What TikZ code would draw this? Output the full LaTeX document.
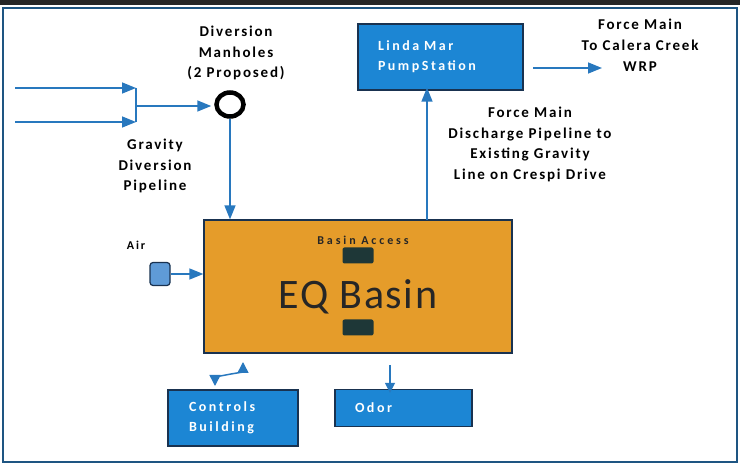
\documentclass[tikz,border=0pt]{standalone}
\usepackage{fontspec}
\setmainfont{Carlito}
\usetikzlibrary{arrows.meta,positioning,shapes.geometric}

\definecolor{pipeblue}{RGB}{40,120,190}
\definecolor{boxblue}{RGB}{28,134,212}
\definecolor{boxedge}{RGB}{25,50,80}
\definecolor{basinorange}{RGB}{229,156,42}
\definecolor{hatchdark}{RGB}{30,55,55}
\definecolor{airblue}{RGB}{95,155,215}
\definecolor{frameblue}{RGB}{30,85,130}

\newcommand{\lblfont}{\fontsize{15}{20.8}\selectfont\bfseries\addfontfeature{LetterSpace=12}}
\newcommand{\boxfont}{\fontsize{14}{20}\selectfont\bfseries\addfontfeature{LetterSpace=18}}

\begin{document}
\begin{tikzpicture}[x=1pt,y=-1pt,
    pipe/.style={draw=pipeblue, line width=1.5pt},
    flow/.style={pipe, -{Triangle[length=14pt,width=11pt]}},
    bluebox/.style={draw=boxedge, line width=1.3pt, fill=boxblue, text=white,
        font=\boxfont, align=left, inner sep=0pt},
    lbl/.style={font=\lblfont, align=center, inner sep=0pt}]
\useasboundingbox (0,0) rectangle (740,465);
\fill[black!85] (0,0) rectangle (740,5);
\draw[frameblue, line width=2.5pt] (3,8) rectangle (737,462);

% boxes
\node[bluebox, minimum width=165pt, minimum height=66pt, text width=125pt] (pump) at (440.5,57) {Linda Mar\\PumpStation};
\node[draw=boxedge, line width=1.3pt, fill=basinorange, minimum width=308pt, minimum height=133pt] (basin) at (358,286.5) {};
\node[bluebox, minimum width=130pt, minimum height=56pt, text width=88pt] (ctrl) at (233,418) {Controls\\Building};
\node[bluebox, minimum width=137pt, minimum height=37pt, text width=97pt] (odor) at (403.5,408) {Odor};

% basin inside
\node[font=\fontsize{42}{42}\selectfont\addfontfeature{LetterSpace=4}, text=black!85] (eq) at (358,297) {EQ Basin};
\node[font=\fontsize{12}{12}\selectfont\bfseries\addfontfeature{LetterSpace=24}, text=black!85, inner sep=0pt] (acc) at (363,240) {Basin Access};
\node[fill=hatchdark, rounded corners=2pt, minimum width=31pt, minimum height=16pt, inner sep=0pt] (hatch1) at (358,255.5) {};
\node[fill=hatchdark, rounded corners=2pt, minimum width=31pt, minimum height=16pt, inner sep=0pt] (hatch2) at (358,327.5) {};

% manhole and air
\node[ellipse, draw=black, line width=4.5pt, minimum width=27pt, minimum height=24pt, inner sep=0pt] (mh) at (230,104.5) {};
\node[draw=boxedge, line width=1.2pt, fill=airblue, rounded corners=3pt, minimum width=20pt, minimum height=23pt, inner sep=0pt] (air) at (160,274) {};

% labels
\node[lbl] (divlbl) at (236,53) {Diversion\\Manholes\\(2 Proposed)};
\node[lbl] (gravlbl) at (155,166) {Gravity\\Diversion\\Pipeline};
\node[lbl] (wrplbl) at (640,45) {Force Main\\To Calera Creek\\WRP};
\node[lbl] (fmlbl) at (530,144.5) {Force Main\\Discharge Pipeline to\\Existing Gravity\\Line on Crespi Drive};
\node[lbl, font=\fontsize{12}{12}\selectfont\bfseries\addfontfeature{LetterSpace=15}] (airlbl) at (136,245) {Air};

% gravity pipes in
\coordinate (in1) at (15,88);
\coordinate (in2) at (15,122);
\coordinate (j1) at (136,88);
\coordinate (j2) at (136,122);
\coordinate (jm) at (136,106);
\draw[flow] (in1) -- (j1);
\draw[flow] (in2) -- (j2);
\draw[pipe] (j1) -- (j2);
\draw[flow] (jm) -- ([xshift=-3pt]mh.west |- jm);
\draw[flow] (mh) -- (mh |- basin.north);

% force main
\coordinate (fm) at (427,220);
\draw[flow] (fm) -- ([yshift=3pt]fm |- pump.south);
\coordinate (wrpA) at (533,68);
\coordinate (wrpB) at (602,68);
\draw[flow] (wrpA) -- (wrpB);

% air, controls, odor
\draw[flow] (air) -- (air -| basin.west);
\coordinate (ct1) at (215,386);
\coordinate (ct2) at (243,362);
\draw[pipe, {Triangle[length=11pt,width=11pt]}-{Triangle[length=11pt,width=11pt]}] (ct1) -- (215,377) -- (231,374) -- (243,372) -- (ct2);
\coordinate (od) at (390,365);
\draw[pipe, -{Triangle[length=10pt,width=10pt]}] (od) -- ([yshift=-4pt]od |- odor.north);
\end{tikzpicture}
\end{document}
